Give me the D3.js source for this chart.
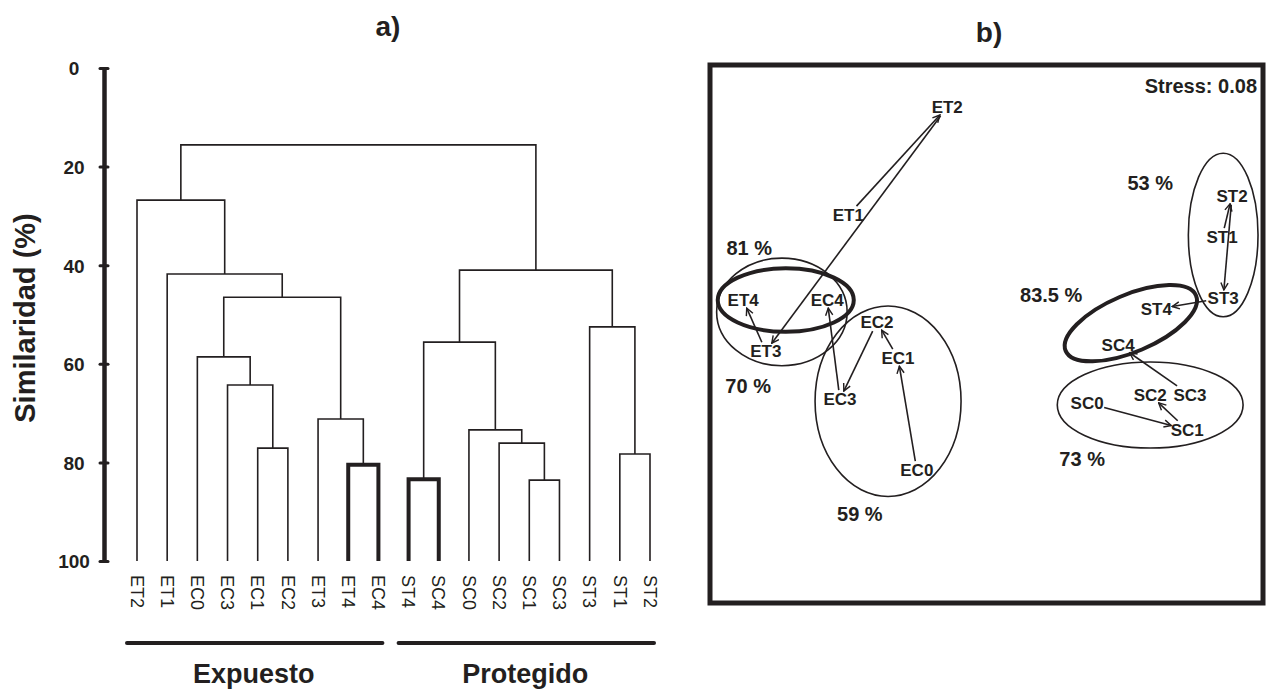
<!DOCTYPE html>
<html>
<head>
<meta charset="utf-8">
<script src="https://cdn.jsdelivr.net/npm/d3@7"></script>
<style>
  body { margin: 0; background: #fff; }
  text { font-family: "Liberation Sans", Arial, sans-serif; fill: #231f20; }
</style>
</head>
<body>
<script>
const width = 1268, height = 689;

// a) dendrogram
const leaves = ["ET2", "ET1", "EC0", "EC3", "EC1", "EC2", "ET3", "ET4", "EC4",
                "ST4", "SC4", "SC0", "SC2", "SC1", "SC3", "ST3", "ST1", "ST2"];
// each merge gets id m0, m1, ... in order: [left, right, similarity %]
const merges = [
  ["EC1", "EC2", 77.1],   // m0
  ["EC3", "m0", 64.3],    // m1
  ["EC0", "m1", 58.6],    // m2
  ["ET4", "EC4", 80.5],   // m3
  ["ET3", "m3", 71.2],    // m4
  ["m2", "m4", 46.5],     // m5
  ["ET1", "m5", 41.8],    // m6
  ["ET2", "m6", 26.8],    // m7
  ["SC1", "SC3", 83.6],   // m8
  ["SC2", "m8", 76.1],    // m9
  ["SC0", "m9", 73.4],    // m10
  ["ST4", "SC4", 83.4],   // m11
  ["m11", "m10", 55.6],   // m12
  ["ST1", "ST2", 78.3],   // m13
  ["ST3", "m13", 52.5],   // m14
  ["m12", "m14", 41.0],   // m15
  ["m7", "m15", 15.6]     // m16
];
const boldMerges = ["m3", "m11"];
const simTicks = [0, 20, 40, 60, 80, 100];
const groupNames = ["Expuesto", "Protegido"];
const groupFirst = ["ET2", "ST4"];
const groupLast = ["EC4", "ST2"];

// b) nMDS (coordinates in % of the plot frame)
const sites = ["ET1", "ET2", "ET3", "ET4", "EC0", "EC1", "EC2", "EC3", "EC4",
               "ST1", "ST2", "ST3", "ST4", "SC0", "SC1", "SC2", "SC3", "SC4"];
const siteX = [25.0, 42.9, 10.1, 6.0, 37.4, 34.0, 30.2, 23.5, 21.2,
               92.6, 94.4, 92.8, 80.7, 68.2, 86.3, 79.6, 86.8, 73.8];
const siteY = [72.1, 92.2, 46.8, 56.3, 24.7, 45.5, 52.2, 37.9, 56.3,
               68.0, 75.7, 56.7, 54.6, 37.2, 32.2, 38.7, 38.7, 48.0];
const trajectories = [
  ["ET1", "ET2", "ET3", "ET4"],
  ["EC0", "EC1", "EC2", "EC3", "EC4"],
  ["ST1", "ST2", "ST3", "ST4"],
  ["SC0", "SC1", "SC2", "SC3", "SC4"]
];
// similarity envelopes: centre x, centre y, radius x, radius y, tilt (deg)
const envLabels = ["81 %", "70 %", "59 %", "53 %", "83.5 %", "73 %"];
const envCx = [13.7, 13.0, 32.2, 92.8, 76.1, 79.6];
const envCy = [56.3, 54.1, 37.5, 68.4, 52.0, 36.8];
const envRx = [12.3, 11.8, 13.2, 6.3, 12.8, 16.8];
const envRy = [5.9, 10.0, 17.7, 15.2, 5.3, 8.0];
const envTilt = [0, 0, 0, 0, -23, 0];
const envBold = ["81 %", "83.5 %"];
const envLabelX = [7.1, 6.9, 27.1, 79.6, 61.7, 67.3];
const envLabelY = [66.0, 40.3, 16.5, 78.1, 57.2, 26.8];
const stress = 0.08;

const ink = "#231f20";

const svg = d3.select("body").append("svg")
  .attr("width", width)
  .attr("height", height);

// ---------- a) ----------
const x = d3.scalePoint().domain(leaves).range([137, 650]);
const y = d3.scaleLinear().domain([0, 100]).range([68, 561]);

svg.append("text")
  .attr("x", 388).attr("y", 36)
  .attr("text-anchor", "middle")
  .attr("font-size", 28).attr("font-weight", "bold")
  .text("a)");

const nodes = {};
leaves.forEach(l => nodes[l] = { x: x(l), h: 100 });
const links = [];
merges.forEach(([a, b, h], i) => {
  const id = "m" + i, A = nodes[a], B = nodes[b];
  nodes[id] = { x: (A.x + B.x) / 2, h: h };
  links.push({
    d: `M${A.x},${y(A.h)}V${y(h)}H${B.x}V${y(B.h)}`,
    bold: boldMerges.includes(id)
  });
});

svg.append("g").selectAll("path")
  .data(links)
  .enter().append("path")
    .attr("d", d => d.d)
    .attr("fill", "none")
    .attr("stroke", ink)
    .attr("stroke-width", d => d.bold ? 4 : 1.6);

const axis = svg.append("g")
  .attr("transform", "translate(104,0)")
  .call(d3.axisLeft(y).tickValues(simTicks).tickSize(0).tickFormat(d3.format("d")));
axis.select(".domain").attr("stroke", ink).attr("stroke-width", 4.5);
axis.selectAll(".tick line").remove();
axis.selectAll(".tick").append("line")
  .attr("x1", -4).attr("x2", 4)
  .attr("stroke", ink).attr("stroke-width", 3).attr("stroke-linecap", "round");
axis.selectAll(".tick text")
  .attr("x", -30).attr("dy", "0.36em")
  .attr("text-anchor", "middle")
  .attr("font-size", 19).attr("font-weight", "bold")
  .attr("font-family", "Liberation Sans, Arial, sans-serif")
  .attr("fill", ink);

svg.append("text")
  .attr("transform", "translate(35,318) rotate(-90)")
  .attr("text-anchor", "middle")
  .attr("font-size", 29).attr("font-weight", "bold")
  .text("Similaridad (%)");

svg.append("g").selectAll("text")
  .data(leaves)
  .enter().append("text")
    .attr("transform", d => `translate(${x(d)},575) rotate(90)`)
    .attr("dy", "0.35em")
    .attr("font-size", 18)
    .text(d => d);

const grp = svg.append("g").selectAll("g")
  .data(groupNames)
  .enter().append("g");
grp.append("line")
  .attr("x1", (d, i) => x(groupFirst[i]) - 10)
  .attr("x2", (d, i) => x(groupLast[i]) + 4)
  .attr("y1", 643).attr("y2", 643)
  .attr("stroke", ink).attr("stroke-width", 4).attr("stroke-linecap", "round");
grp.append("text")
  .attr("x", (d, i) => (x(groupFirst[i]) + x(groupLast[i])) / 2 - 4)
  .attr("y", 683)
  .attr("text-anchor", "middle")
  .attr("font-size", 27).attr("font-weight", "bold")
  .text(d => d);

// ---------- b) ----------
const bx = d3.scaleLinear().domain([0, 100]).range([710, 1263]);
const by = d3.scaleLinear().domain([0, 100]).range([603, 65]);

svg.append("text")
  .attr("x", 989).attr("y", 42)
  .attr("text-anchor", "middle")
  .attr("font-size", 28).attr("font-weight", "bold")
  .text("b)");

svg.append("rect")
  .attr("x", bx(0)).attr("y", by(100))
  .attr("width", bx(100) - bx(0)).attr("height", by(0) - by(100))
  .attr("fill", "none").attr("stroke", ink).attr("stroke-width", 5);

svg.append("text")
  .attr("x", 1257).attr("y", 93)
  .attr("text-anchor", "end")
  .attr("font-size", 20).attr("font-weight", "bold")
  .text("Stress: " + stress.toFixed(2));

svg.append("defs").append("marker")
  .attr("id", "arrow")
  .attr("viewBox", "0 -5 10 10")
  .attr("refX", 9).attr("refY", 0)
  .attr("markerWidth", 9).attr("markerHeight", 9)
  .attr("markerUnits", "userSpaceOnUse")
  .attr("orient", "auto")
  .append("path")
    .attr("d", "M1,-4L9,0L1,4")
    .attr("fill", "none").attr("stroke", ink).attr("stroke-width", 1.6);

envLabels.forEach((lab, i) => {
  const cx = bx(envCx[i]), cy = by(envCy[i]);
  svg.append("ellipse")
    .attr("cx", cx).attr("cy", cy)
    .attr("rx", bx(envRx[i]) - bx(0))
    .attr("ry", by(0) - by(envRy[i]))
    .attr("transform", `rotate(${envTilt[i]},${cx},${cy})`)
    .attr("fill", "none").attr("stroke", ink)
    .attr("stroke-width", envBold.includes(lab) ? 4 : 1.6);
  svg.append("text")
    .attr("x", bx(envLabelX[i])).attr("y", by(envLabelY[i]))
    .attr("dy", "0.36em")
    .attr("text-anchor", "middle")
    .attr("font-size", 20).attr("font-weight", "bold")
    .text(lab);
});

const pos = {};
sites.forEach((s, i) => pos[s] = [bx(siteX[i]), by(siteY[i])]);

// arrows between consecutive samples, trimmed at the label boxes
const arrows = [];
trajectories.forEach(tr => {
  for (let i = 0; i < tr.length - 1; i++) {
    const [x0, y0] = pos[tr[i]], [x1, y1] = pos[tr[i + 1]];
    const dx = x1 - x0, dy = y1 - y0;
    const t0 = Math.min(17 / Math.abs(dx || 1e-6), 9 / Math.abs(dy || 1e-6));
    const t1 = 1 - Math.min(16 / Math.abs(dx || 1e-6), 8 / Math.abs(dy || 1e-6));
    const len = (t1 - t0) * Math.hypot(dx, dy);
    if (len > 12) arrows.push([x0 + dx * t0, y0 + dy * t0, x0 + dx * t1, y0 + dy * t1]);
  }
});

svg.append("g").selectAll("line")
  .data(arrows)
  .enter().append("line")
    .attr("x1", d => d[0]).attr("y1", d => d[1])
    .attr("x2", d => d[2]).attr("y2", d => d[3])
    .attr("stroke", ink).attr("stroke-width", 1.6)
    .attr("marker-end", "url(#arrow)");

svg.append("g").selectAll("text")
  .data(sites)
  .enter().append("text")
    .attr("x", d => pos[d][0]).attr("y", d => pos[d][1])
    .attr("dy", "0.36em")
    .attr("text-anchor", "middle")
    .attr("font-size", 17).attr("font-weight", "bold")
    .text(d => d);
</script>
</body>
</html>
